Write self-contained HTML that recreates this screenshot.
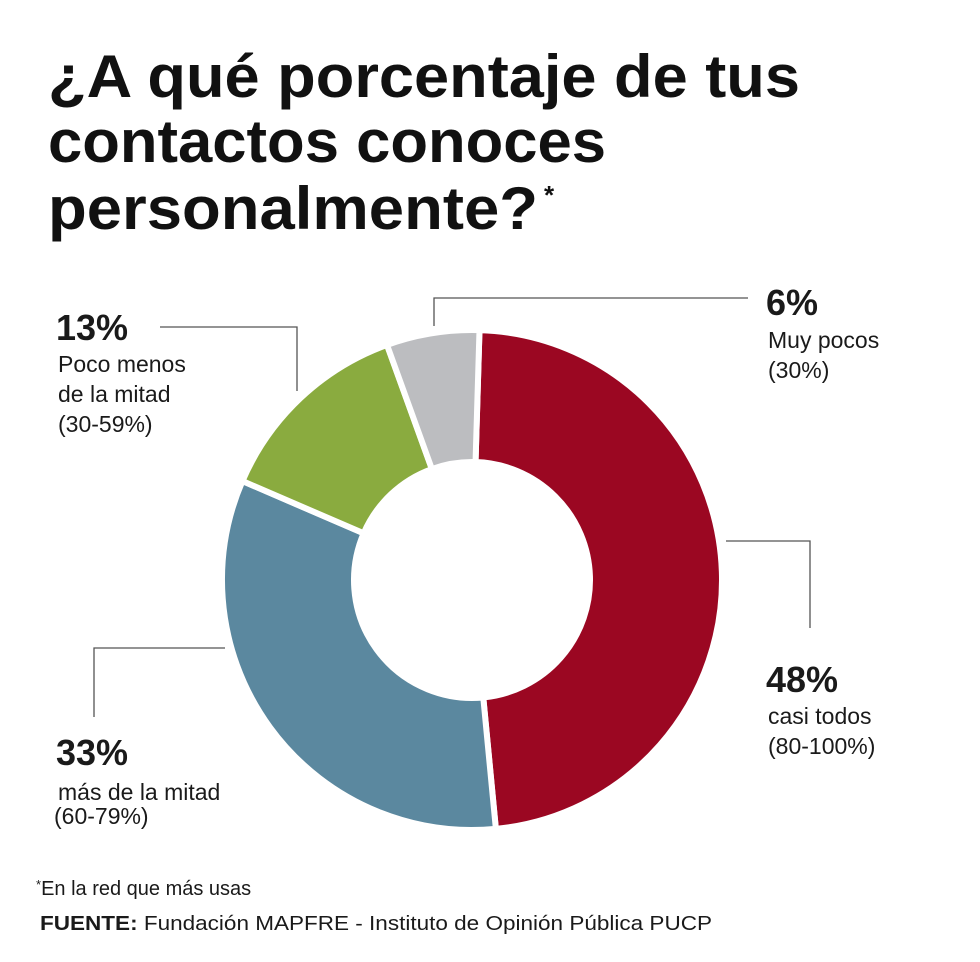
<!DOCTYPE html>
<html><head><meta charset="utf-8"><style>
body{margin:0;background:#fff;}
svg{display:block;font-family:"Liberation Sans",sans-serif;}
</style></head><body>
<svg width="980" height="962" viewBox="0 0 980 962">
<g font-weight="bold" font-size="60" fill="#111">
<text x="48" y="97" textLength="752" lengthAdjust="spacingAndGlyphs">¿A qué porcentaje de tus</text>
<text x="48" y="162" textLength="558" lengthAdjust="spacingAndGlyphs">contactos conoces</text>
<text x="48" y="229" textLength="490" lengthAdjust="spacingAndGlyphs">personalmente?</text>
<text x="544" y="204" font-size="26">*</text>
</g>
<g id="donut"></g>
<g stroke="#555" stroke-width="1.3" fill="none">
<polyline points="160,327 297,327 297,391"/>
<polyline points="434,326 434,298 748,298"/>
<polyline points="726,541 810,541 810,628"/>
<polyline points="225,648 94,648 94,717"/>
</g>
<g fill="#1a1a1a">
<g><text x="56" y="340" font-size="36" font-weight="bold">13%</text>
<text x="58" y="372" font-size="23">Poco menos</text><text x="58" y="402" font-size="23">de la mitad</text><text x="58" y="432" font-size="23">(30-59%)</text></g>
<g><text x="766" y="315" font-size="36" font-weight="bold">6%</text>
<text x="768" y="348" font-size="23">Muy pocos</text><text x="768" y="378" font-size="23">(30%)</text></g>
<g><text x="766" y="692" font-size="36" font-weight="bold">48%</text>
<text x="768" y="724" font-size="23">casi todos</text><text x="768" y="754" font-size="23">(80-100%)</text></g>
<g><text x="56" y="765" font-size="36" font-weight="bold">33%</text>
<text x="58" y="800" font-size="23">más de la mitad</text><text x="54" y="824" font-size="23">(60-79%)</text></g>
</g>
<g fill="#1a1a1a">
<text x="36" y="895" font-size="20"><tspan font-size="13" dy="-6">*</tspan><tspan dy="6">En la red que más usas</tspan></text>
<text x="40" y="930" font-size="20" textLength="672" lengthAdjust="spacingAndGlyphs"><tspan font-weight="bold">FUENTE:</tspan> Fundación MAPFRE - Instituto de Opinión Pública PUCP</text>
</g>
</svg>
<script>
const categories=['casi todos','más de la mitad','poco menos de la mitad','muy pocos'];
const values=[48,33,13,6];
const colors=['#9b0722','#5b889f','#8aab3f','#bcbdc0'];
const g=document.getElementById('donut');
const cx=472,cy=580,R=250,r=118;
const total=values.reduce((a,b)=>a+b,0);
function pt(a,rad){return [cx+rad*Math.sin(a),cy-rad*Math.cos(a)];}
let acc=0;
values.forEach((v,i)=>{
  const a0=acc/total*2*Math.PI+0.03,a1=(acc+v)/total*2*Math.PI+0.03;acc+=v;
  const large=(a1-a0)>Math.PI?1:0;
  const p0=pt(a0,R),p1=pt(a1,R),q1=pt(a1,r),q0=pt(a0,r);
  const p=document.createElementNS('http://www.w3.org/2000/svg','path');
  p.setAttribute('d',`M${p0} A${R},${R} 0 ${large} 1 ${p1} L${q1} A${r},${r} 0 ${large} 0 ${q0} Z`);
  p.setAttribute('fill',colors[i]);p.setAttribute('stroke','#fff');p.setAttribute('stroke-width','6');
  
  
  g.appendChild(p);
});
</script>
</body></html>
